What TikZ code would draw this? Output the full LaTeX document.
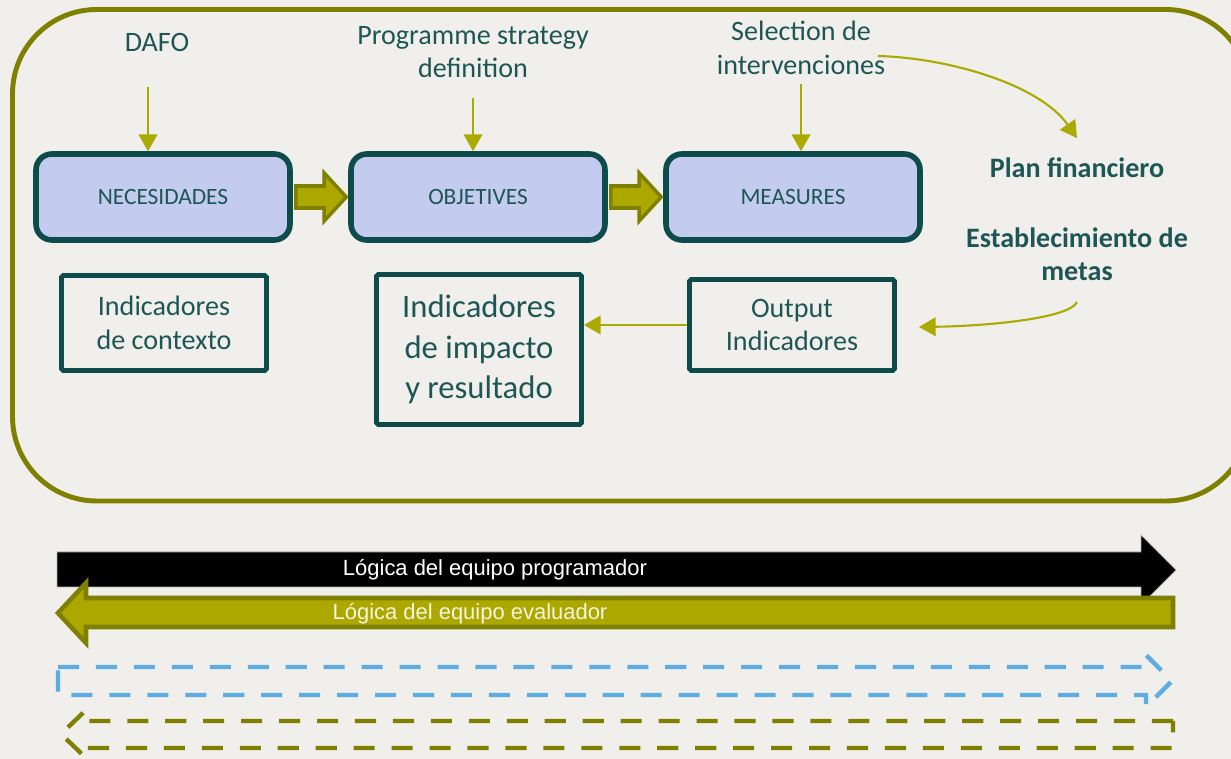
\documentclass[tikz,border=0pt]{standalone}
\usepackage{fontspec}
\setmainfont{Carlito}
\newfontfamily\arialfont{Liberation Sans}
\usetikzlibrary{calc,arrows.meta}
\definecolor{fondo}{HTML}{F0EFEB}
\definecolor{oliva}{HTML}{808000}
\definecolor{olivaclara}{HTML}{ADA800}
\definecolor{flecha}{HTML}{AAAA00}
\definecolor{borde}{HTML}{0E4B4B}
\definecolor{relleno}{HTML}{C3CBEE}
\definecolor{texto}{HTML}{1E5656}
\definecolor{azul}{HTML}{5DADE2}
\tikzset{
  caja/.style={draw=borde, line width=3.2pt, fill=relleno, rounded corners=9pt, minimum width=5.08cm, minimum height=1.72cm, text=texto, font=\fontsize{13.3}{15}\selectfont},
  indic/.style={draw=borde, line width=2.8pt, minimum width=4.1cm, text=texto, align=center, rounded corners=1pt},
  etiq/.style={text=texto, align=center, inner sep=2pt, font=\fontsize{16}{19}\selectfont},
  negrita/.style={text=texto, align=center, inner sep=2pt, font=\bfseries\fontsize{16}{18.5}\selectfont},
  flechita/.style={draw=flecha, line width=1.2pt, -{Triangle[width=10.5pt,length=9.5pt]}},
  gorda/.style={draw=oliva, fill=olivaclara, line width=2pt},
}
\begin{document}
\begin{tikzpicture}[x=0.02cm, y=-0.02cm]
        \useasboundingbox (0,0) rectangle (1231,759);
        \fill[fondo] (0,0) rectangle (1231,759);
        \clip (0,0) rectangle (1231,759);
        \draw[oliva, line width=2.8pt, rounded corners=48pt] (12.5,9.5) rectangle (1250,501);

        \node[caja] (nec) at (163,197) {NECESIDADES};
        \node[caja] (obj) at (478,197) {OBJETIVES};
        \node[caja] (meas) at (793,197) {MEASURES};
        \draw[gorda] (nec.east) ++(3,-11) -- ($(obj.west)+(-24,-11)$) -- ++(0,-13) -- ($(obj.west)+(-2,0)$) -- ++(-22,24) -- ++(0,-13) -- ($(nec.east)+(3,11)$) -- cycle;
        \draw[gorda] (obj.east) ++(3,-11) -- ($(meas.west)+(-24,-11)$) -- ++(0,-13) -- ($(meas.west)+(-2,0)$) -- ++(-22,24) -- ++(0,-13) -- ($(obj.east)+(3,11)$) -- cycle;

        \node[etiq] (dafo) at (157,42) {DAFO};
        \node[etiq] (prog) at (473,52) {Programme strategy\\definition};
        \node[etiq] (sel) at (801,48) {Selection de\\intervenciones};
        \coordinate (dafo0) at (148,87);
        \coordinate (prog0) at (473,98);
        \coordinate (sel0) at (801,84);
        \draw[flechita] (dafo0) -- (dafo0 |- nec.north);
        \draw[flechita] (prog0) -- (prog0 |- obj.north);
        \draw[flechita] (sel0) -- (sel0 |- meas.north);

        \node[negrita] (plan) at (1077,168) {Plan financiero};
        \node[negrita] (metas) at (1077,254) {Establecimiento de\\metas};
        \coordinate (curva0) at (878,56);
        \coordinate (curva1) at (1077,302);
        \draw[flechita] (curva0) .. controls (950,58) and (1040,85) .. ($(plan.north)+(0,-16)$);

        \node[indic, minimum height=1.9cm, font=\fontsize{16}{19.3}\selectfont] (ctx) at (164,323) {Indicadores\\de contexto};
        \node[indic, minimum height=3cm, font=\fontsize{18.6}{23}\selectfont] (imp) at (479,349.5) {Indicadores\\de impacto\\y resultado};
        \node[indic, minimum height=1.82cm, font=\fontsize{16}{19.3}\selectfont] (outp) at (792,325) {Output\\Indicadores};
        \draw[flechita] (curva1) .. controls (1070,318) and (990,326) .. ($(outp.east)+(22,2)$);
        \draw[flechita] (outp.west) -- (outp.west -| imp.east);

        \draw[draw=gray!60, fill=black, line width=0.4pt] (57,552) -- (1141,552) -- (1141,535) -- (1176,570) -- (1141,605) -- (1141,587) -- (57,587) -- cycle;
        \node[text=white, font=\arialfont\fontsize{12.5}{15}\selectfont] (lprog) at (495,570) {Lógica del equipo programador};
        \draw[oliva, fill=olivaclara, line width=2.6pt] (1173,598) -- (86,598) -- (86,583) -- (58,613) -- (86,643) -- (86,627) -- (1173,627) -- cycle;
        \node[text=white!88!olivaclara, font=\arialfont\fontsize{12.5}{15}\selectfont] (leval) at (470,614) {Lógica del equipo evaluador};

        \draw[azul, line width=2.5pt, dash pattern=on 12pt off 9.6pt] (58,667) -- (1146,667) -- (1146,655) -- (1172,681) -- (1146,707) -- (1146,695) -- (58,695) -- cycle;
        \draw[oliva, line width=2.5pt, dash pattern=on 12pt off 9.6pt] (1173,721) -- (85,721) -- (85,711) -- (61,734) -- (85,757) -- (85,748) -- (1173,748) -- cycle;
\end{tikzpicture}
\end{document}
